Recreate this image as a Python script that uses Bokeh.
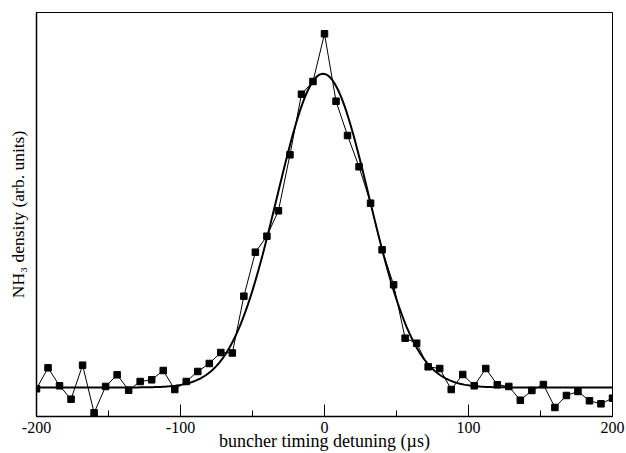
import numpy as np
from bokeh.plotting import figure
from bokeh.models import Range1d, FixedTicker, ColumnDataSource
from bokeh.embed import file_html
from bokeh.resources import INLINE

# measured data: buncher timing detuning (µs) and NH3 density (arb. units)
detuning = [-200, -192, -184, -176, -168, -160, -152, -144, -136, -128,
            -120, -112, -104, -96, -88, -80, -72, -64, -56, -48,
            -40, -32, -24, -16, -8, 0, 8, 16, 24, 32,
            40, 48, 56, 64, 72, 80, 88, 96, 104, 112,
            120, 128, 136, 144, 152, 160, 168, 176, 184, 192, 200]
density = [6.86, 12.05, 7.60, 4.28, 12.70, 0.92, 7.43, 10.32, 6.51, 8.66,
           9.08, 11.39, 6.68, 8.66, 11.14, 13.12, 15.84, 15.72, 29.78, 40.67,
           44.63, 50.92, 64.78, 79.78, 82.92, 94.73, 78.04, 69.55, 61.81, 52.80,
           41.26, 32.60, 19.38, 18.14, 12.30, 11.88, 6.68, 10.40, 7.60, 11.88,
           7.85, 7.43, 4.03, 6.44, 7.92, 2.23, 5.20, 6.19, 3.89, 3.14, 4.53]

# Gaussian fit parameters
fit_offset = 7.18
fit_amp = 77.65
fit_center = -1.0
fit_sigma = 32.0

x_major_ticks = [-200, -100, 0, 100, 200]
x_minor_ticks = [-150, -50, 50, 150]
x_tick_labels = ["-200", "-100", "0", "100", "200"]

x_fit = np.linspace(-200, 200, 401)
y_fit = fit_offset + fit_amp * np.exp(-(x_fit - fit_center) ** 2 / (2 * fit_sigma ** 2))

FONT = "Liberation Serif"

p = figure(width=626, height=453, output_backend="svg", toolbar_location=None,
           x_range=Range1d(-200, 200), y_range=Range1d(0, 100),
           min_border_left=36, min_border_right=14, min_border_top=12, min_border_bottom=37)
p.background_fill_color = "white"
p.border_fill_color = "white"
p.grid.visible = False
p.outline_line_color = "black"
p.outline_line_width = 1

p.line(x_fit, y_fit, line_color="black", line_width=2)
src = ColumnDataSource(dict(x=detuning, y=density))
p.line("x", "y", source=src, line_color="black", line_width=1)
p.scatter("x", "y", source=src, marker="square", size=6.5, fill_color="black", line_color="black")

xa = p.xaxis[0]
xa.ticker = FixedTicker(ticks=x_major_ticks, minor_ticks=x_minor_ticks)
xa.major_label_overrides = {t: l for t, l in zip(x_major_ticks, x_tick_labels)}
xa.major_tick_in = 12
xa.major_tick_out = 0
xa.minor_tick_in = 6
xa.minor_tick_out = 0
xa.major_tick_line_color = "black"
xa.minor_tick_line_color = "black"
xa.axis_line_color = "black"
xa.axis_line_width = 1.5
xa.major_label_standoff = 5
xa.major_label_text_font = FONT
xa.major_label_text_font_size = "16px"
xa.major_label_text_color = "black"
xa.axis_label = "buncher timing detuning (µs)"
xa.axis_label_text_font = FONT
xa.axis_label_text_font_size = "18px"
xa.axis_label_text_font_style = "normal"
xa.axis_label_text_color = "black"
xa.axis_label_standoff = -5

ya = p.yaxis[0]
ya.ticker = FixedTicker(ticks=[])
ya.major_tick_in = 0
ya.major_tick_out = 0
ya.minor_tick_in = 0
ya.minor_tick_out = 0
ya.major_label_standoff = 0
ya.axis_line_color = "black"
ya.axis_line_width = 1.5
ya.axis_label = "NH₃ density (arb. units)"
ya.axis_label_text_font = FONT
ya.axis_label_text_font_size = "17.5px"
ya.axis_label_text_font_style = "normal"
ya.axis_label_text_color = "black"
ya.axis_label_standoff = 9

open("out.html", "w").write(file_html(p, INLINE))
